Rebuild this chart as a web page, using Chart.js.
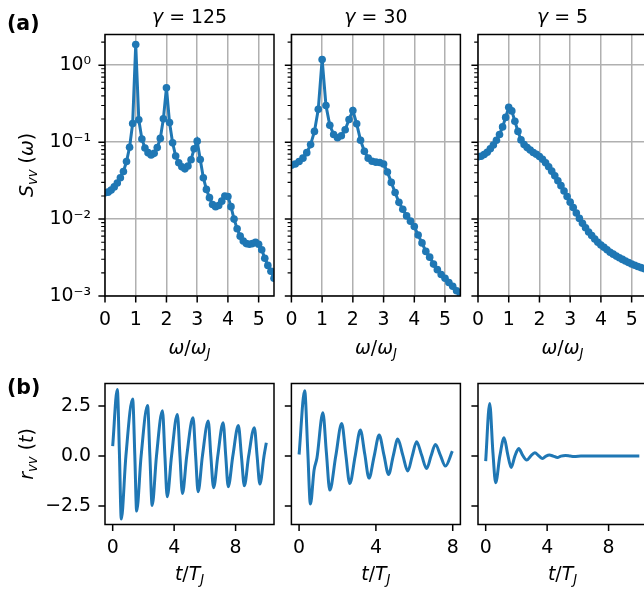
<!DOCTYPE html>
<html><head><meta charset="utf-8">
<script src="https://cdn.jsdelivr.net/npm/chart.js@4.4.1/dist/chart.umd.min.js"></script>
<style>
html,body{margin:0;padding:0;background:#fff;overflow:hidden;}
#fig{position:relative;width:644px;height:591px;overflow:hidden;background:#fff;font-family:"DejaVu Sans",sans-serif;color:#000;}
#fig canvas{position:absolute;left:0;top:0;}
.t{position:absolute;line-height:1;white-space:nowrap;}
.i{font-style:italic;}
.s{font-size:70%;font-style:italic;position:relative;top:0.32em;}
</style></head><body><div id="fig"></div>
<script>
// ---------------- data ----------------
const GAMMA_LABELS = ['125', '30', '5'];
const OMEGA_TICKS = [0, 1, 2, 3, 4, 5];
const LOG_TICKS = [0.001, 0.01, 0.1, 1];
const LOG_TICK_LABELS = ['10⁻³', '10⁻²', '10⁻¹', '10⁰'];
const T_TICKS = [0, 4, 8];
const R_TICKS = [-2.5, 0, 2.5];
const R_TICK_LABELS = ['−2.5', '0.0', '2.5'];

// spectra S_vv(omega)
const omegaA = [0,0.1,0.2,0.3,0.4,0.5,0.6,0.7,0.8,0.9,1.0,1.1,1.2,1.3,1.4,1.5,1.6,1.7,1.8,1.9,2.0,2.1,2.2,2.3,2.4,2.5,2.6,2.7,2.8,2.9,3.0,3.1,3.2,3.3,3.4,3.5,3.6,3.7,3.8,3.9,4.0,4.1,4.2,4.3,4.4,4.5,4.6,4.7,4.8,4.9,5.0,5.1,5.2,5.3,5.4,5.5];
const sA = [0.0220,0.0224,0.0238,0.0262,0.0295,0.0345,0.0415,0.0560,0.0860,0.175,1.86,0.195,0.110,0.0840,0.0730,0.0680,0.0715,0.0850,0.112,0.201,0.510,0.180,0.098,0.066,0.054,0.048,0.045,0.049,0.059,0.082,0.103,0.0596,0.0345,0.0243,0.0190,0.0155,0.0145,0.0150,0.0171,0.0200,0.0197,0.0145,0.0100,0.0075,0.0060,0.0052,0.0048,0.0047,0.0048,0.0050,0.0047,0.0040,0.0031,0.0025,0.0021,0.0017];

const omegaB = [0,0.125,0.25,0.375,0.5,0.625,0.75,0.875,1.0,1.125,1.25,1.375,1.5,1.625,1.75,1.875,2.0,2.125,2.25,2.375,2.5,2.625,2.75,2.875,3.0,3.125,3.25,3.375,3.5,3.625,3.75,3.875,4.0,4.125,4.25,4.375,4.5,4.625,4.75,4.875,5.0,5.125,5.25,5.375,5.5];
const sB = [0.050,0.052,0.056,0.062,0.073,0.093,0.138,0.268,1.19,0.300,0.166,0.126,0.114,0.121,0.145,0.197,0.258,0.173,0.106,0.076,0.062,0.0565,0.0550,0.0545,0.0520,0.0410,0.0300,0.0222,0.0165,0.0134,0.0110,0.0094,0.0080,0.0062,0.0049,0.0038,0.0032,0.0026,0.0022,0.0019,0.00170,0.00150,0.00134,0.00117,0.00105];

const omegaC = [0,0.1,0.2,0.3,0.4,0.5,0.6,0.7,0.8,0.9,1.0,1.1,1.2,1.3,1.4,1.5,1.6,1.7,1.8,1.9,2.0,2.1,2.2,2.3,2.4,2.5,2.6,2.7,2.8,2.9,3.0,3.1,3.2,3.3,3.4,3.5,3.6,3.7,3.8,3.9,4.0,4.1,4.2,4.3,4.4,4.5,4.6,4.7,4.8,4.9,5.0,5.1,5.2,5.3,5.4,5.5];
const sC = [0.0646,0.0655,0.069,0.074,0.082,0.092,0.106,0.126,0.158,0.210,0.285,0.255,0.187,0.138,0.107,0.093,0.085,0.079,0.0735,0.0695,0.065,0.060,0.054,0.048,0.042,0.0365,0.0315,0.0272,0.0232,0.0197,0.0166,0.0141,0.0120,0.0102,0.0088,0.0077,0.0068,0.0061,0.0055,0.0050,0.0046,0.0043,0.0040,0.0037,0.0035,0.0033,0.00314,0.00299,0.00285,0.00273,0.00261,0.00251,0.00242,0.00234,0.00227,0.00221];

// correlation functions r_vv(t)
const tA = [0,0.30,0.44,0.56,0.86,1.30,1.44,1.56,1.85,2.27,2.42,2.57,2.85,3.24,3.40,3.55,3.83,4.21,4.38,4.54,4.82,5.23,5.40,5.56,5.84,6.22,6.39,6.57,6.84,7.19,7.36,7.52,7.82,8.18,8.38,8.57,8.85,9.22,9.40,9.58,9.85,10.0];
const rA = [0.5,3.33,0.1,-3.15,0.0,2.85,0.05,-2.75,0.0,2.53,0.05,-2.47,0.0,2.27,0.0,-2.03,0.0,2.08,0.0,-1.87,0.0,1.92,0.0,-1.78,0.0,1.75,0.0,-1.58,0.0,1.67,0.0,-1.53,0.0,1.53,0.0,-1.48,0.0,1.42,0.0,-1.40,0.0,0.67];

const tB = [0,0.29,0.45,0.59,0.78,0.93,1.24,1.42,1.60,1.91,2.22,2.43,2.64,2.92,3.19,3.42,3.64,3.91,4.17,4.42,4.66,4.90,5.14,5.40,5.66,5.89,6.12,6.38,6.64,6.87,7.10,7.36,7.62,7.98];
const rB = [0.08,3.27,0.3,-2.4,-0.7,-0.1,2.17,0.2,-1.7,0.0,1.63,0.1,-1.37,0.0,1.3,0.1,-1.1,0.0,1.05,0.05,-0.92,0.0,0.85,0.05,-0.75,0.0,0.72,0.05,-0.62,0.0,0.58,0.04,-0.5,0.25];

const tC = [0,0.26,0.47,0.65,0.92,1.20,1.43,1.66,1.90,2.15,2.40,2.67,2.93,3.20,3.45,3.70,3.93,4.15,4.40,4.67,4.90,5.20,5.50,5.75,6.20,6.70,7.50,8.5,10.0];
const rC = [-0.25,2.63,0.2,-1.33,0.0,0.92,0.1,-0.57,0.0,0.38,0.05,-0.2,0.0,0.17,0.02,-0.12,0.0,0.05,0.0,-0.07,0.0,0.03,0.0,-0.02,0.0,0.01,0.0,0.0,0.0];

// ---------------- layout ----------------
const FS = 18.9;
const BLUE = '#1f77b4';
const LEFTS = [105, 291.4, 478];
const PW = 169;
const TOP_ROW = {top: 34.5, bottom: 296};
const BOT_ROW = {top: 383.5, bottom: 524.5};
const CW = 700, CH = 591, LW = 60, BH = 60;

const fig = document.getElementById('fig');

const MINOR_LOG = [];
[0.001, 0.01, 0.1, 1].forEach(d => { for (let k = 2; k <= 9; k++) MINOR_LOG.push(k * d); });

const framePlugin = {
  id: 'frame',
  afterDatasetsDraw(chart, args, opts) {
    const {ctx, chartArea: a, scales: {x, y}} = chart;
    ctx.save();
    ctx.strokeStyle = '#000';
    ctx.lineWidth = 1.5;
    ctx.beginPath();
    x.ticks.forEach(t => { const p = x.getPixelForValue(t.value); ctx.moveTo(p, a.bottom); ctx.lineTo(p, a.bottom + 6.6); });
    y.ticks.forEach(t => { const p = y.getPixelForValue(t.value); ctx.moveTo(a.left, p); ctx.lineTo(a.left - 6.6, p); });
    ctx.stroke();
    if (opts.minor) {
      ctx.lineWidth = 1.1;
      ctx.beginPath();
      opts.minor.forEach(v => {
        if (v < y.min || v > y.max) return;
        const p = y.getPixelForValue(v);
        ctx.moveTo(a.left, p); ctx.lineTo(a.left - 3.8, p);
      });
      ctx.stroke();
    }
    ctx.lineWidth = 1.5;
    ctx.strokeRect(a.left, a.top, a.right - a.left, a.bottom - a.top);
    ctx.restore();
  }
};

function makePanel(cfg) {
  const canvas = document.createElement('canvas');
  canvas.width = CW; canvas.height = CH;
  canvas.style.width = CW + 'px'; canvas.style.height = CH + 'px';
  fig.appendChild(canvas);
  const areaLeft = cfg.left, areaRight = cfg.left + PW;
  const font = {family: 'DejaVu Sans', size: FS};
  new Chart(canvas.getContext('2d'), {
    type: 'line',
    data: {
      datasets: [{
        data: cfg.xs.map((v, i) => ({x: v, y: cfg.ys[i]})),
        borderColor: BLUE,
        backgroundColor: BLUE,
        borderWidth: 3,
        pointRadius: cfg.markers ? 3.8 : 0,
        pointBorderWidth: 0,
        pointBackgroundColor: BLUE,
        pointHoverRadius: 0,
        tension: 0,
        cubicInterpolationMode: cfg.markers ? 'default' : 'monotone',
        fill: false,
        clip: 0
      }]
    },
    options: {
      responsive: false,
      animation: false,
      devicePixelRatio: 1,
      events: [],
      layout: {padding: {left: areaLeft - LW, right: CW - areaRight, top: cfg.row.top, bottom: CH - cfg.row.bottom - BH}},
      plugins: {legend: {display: false}, tooltip: {enabled: false}, frame: {minor: cfg.log ? MINOR_LOG : null}},
      scales: {
        x: {
          type: 'linear', min: cfg.xmin, max: cfg.xmax,
          afterBuildTicks: s => { s.ticks = cfg.xticks.map(v => ({value: v})); },
          afterFit: s => { s.height = BH; },
          grid: {display: cfg.grid, color: '#b0b0b0', lineWidth: 1.5, drawTicks: false},
          border: {display: false},
          ticks: {font, color: '#000', padding: 12.7, maxRotation: 0, autoSkip: false,
                  callback: (v) => String(v)}
        },
        y: {
          type: cfg.log ? 'logarithmic' : 'linear', min: cfg.ymin, max: cfg.ymax,
          afterBuildTicks: s => { s.ticks = cfg.yticks.map(v => ({value: v})); },
          afterFit: s => { s.width = LW; },
          grid: {display: cfg.grid, color: '#b0b0b0', lineWidth: 1.5, drawTicks: false},
          border: {display: false},
          ticks: {display: cfg.showY, font, color: '#000', padding: 14, autoSkip: false,
                  callback: (v) => cfg.ylabels[cfg.yticks.indexOf(v)]}
        }
      }
    },
    plugins: [framePlugin]
  });
}

const tops = [[omegaA, sA], [omegaB, sB], [omegaC, sC]];
tops.forEach((d, i) => makePanel({
  left: LEFTS[i], row: TOP_ROW, xs: d[0], ys: d[1], markers: true, log: true, grid: true,
  xmin: 0, xmax: 5.5, ymin: 0.001, ymax: 2.51, xticks: OMEGA_TICKS, yticks: LOG_TICKS,
  ylabels: LOG_TICK_LABELS, showY: i === 0
}));

const bots = [[tA, rA, -0.5, 10.5], [tB, rB, -0.4, 8.4], [tC, rC, -0.5, 10.5]];
bots.forEach((d, i) => makePanel({
  left: LEFTS[i], row: BOT_ROW, xs: d[0], ys: d[1], markers: false, log: false, grid: false,
  xmin: d[2], xmax: d[3], ymin: -3.42, ymax: 3.63, xticks: T_TICKS, yticks: R_TICKS,
  ylabels: R_TICK_LABELS, showY: i === 0
}));

// ---------------- text ----------------
function addText(html, x, baseline, align, bold, size) {
  const fs = size || FS;
  const d = document.createElement('div');
  d.className = 't';
  d.innerHTML = html;
  d.style.fontSize = fs + 'px';
  if (bold) d.style.fontWeight = 'bold';
  d.style.top = (baseline - 0.846 * fs) + 'px';
  d.style.left = x + 'px';
  if (align === 'center') d.style.transform = 'translateX(-50%)';
  fig.appendChild(d);
}
function addVText(html, cx, cy) {
  const d = document.createElement('div');
  d.className = 't';
  d.innerHTML = html;
  d.style.fontSize = FS + 'px';
  d.style.left = cx + 'px';
  d.style.top = cy + 'px';
  d.style.transform = 'translate(-50%,-50%) rotate(-90deg)';
  fig.appendChild(d);
}

addText('(a)', 7, 30, 'left', true, 20.5);
addText('(b)', 7, 394, 'left', true, 20.5);
GAMMA_LABELS.forEach((g, i) => addText('<span class="i">γ</span> = ' + g, LEFTS[i] + PW / 2, 23, 'center'));
LEFTS.forEach(l => addText('<span class="i">ω</span>/<span class="i">ω</span><span class="s">J</span>', l + PW / 2, 354, 'center'));
LEFTS.forEach(l => addText('<span class="i">t</span>/<span class="i">T</span><span class="s">J</span>', l + PW / 2, 580, 'center'));
addVText('<span class="i">S</span><span class="s">vv</span> (<span class="i">ω</span>)', 26, 165);
addVText('<span class="i">r</span><span class="s">vv</span> (<span class="i">t</span>)', 26, 454);
</script>
</body></html>
